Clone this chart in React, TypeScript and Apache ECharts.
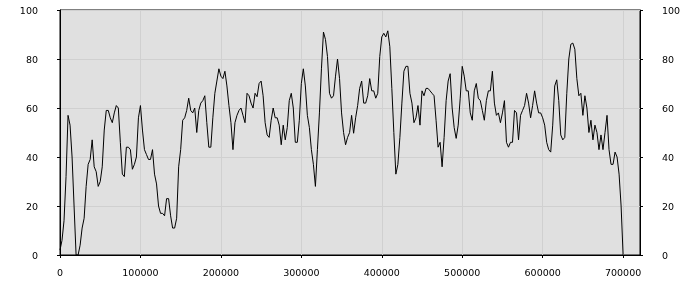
import React, { useEffect, useRef } from "react";
import * as echarts from "echarts";

// sample spacing along the x axis (values are read every 2500 units)
const xStep = 2500;
const xMax = 721000;
const xInterval = 100000;
const yMin = 0;
const yMax = 100;
const yInterval = 20;

const values: number[] = [
  2, 6, 14, 32, 57, 53, 40, 20, 0, 0,
  4, 11, 15, 28, 37, 39, 47, 36, 34, 28,
  30, 36, 51, 59, 59, 56, 54, 58, 61, 60,
  46, 33, 32, 44, 44, 43, 35, 37, 40, 56,
  61, 51, 43, 41, 39, 39, 43, 33, 29,
  20, 17, 17, 16, 23, 23, 16, 11, 11, 15,
  36, 43, 55, 56, 59, 64, 59, 58, 60, 50,
  59, 62, 63, 65, 54, 44, 44, 56, 66, 71,
  76, 73, 72, 75, 69, 61, 54, 43, 54, 57,
  59, 60, 57, 54, 66, 65, 62, 60,
  66, 64.6, 70, 71, 65, 54, 49, 48, 55, 60,
  56, 56, 53, 45, 53, 47, 52, 63, 66, 60,
  46, 46, 55, 70, 76, 69, 57, 52, 43, 37,
  28, 43, 58, 76, 91, 88, 81, 66, 64, 65,
  73, 80, 72, 58, 50, 45, 48, 50, 57,
  49.7, 56, 61, 68, 71, 62, 62, 65, 72, 67,
  67, 64, 66, 81, 89, 90.5, 89, 91.5, 85, 68,
  50, 33, 37, 48, 62, 75, 77, 77, 66, 62,
  54, 56, 61, 53, 67, 65, 68, 68, 67, 66,
  65, 55, 44, 46, 36, 48, 63, 71,
  74, 60, 52, 47.6, 53, 64, 77, 73, 67, 67,
  58, 55, 67, 70, 64, 63, 59, 55, 63, 67,
  67, 75, 62, 57, 58, 54, 58, 63, 46, 44,
  46, 46, 59, 58, 47, 57, 59, 61, 66, 62,
  56, 61, 67, 62, 58, 58, 56, 53,
  46, 43, 42, 53, 69, 71.5, 63, 49, 47, 48,
  66, 80, 86, 86.5, 84, 72, 65, 66, 57, 65,
  60, 50, 55, 47, 53, 50, 43, 49, 43, 50,
  57, 43, 37, 37, 42, 40, 33, 20, 0,
];

const FONT = "DejaVu Sans";

export default function App() {
  const ref = useRef<HTMLDivElement>(null);
  useEffect(() => {
    if (!ref.current) return;
    const chart = echarts.init(ref.current, null, { renderer: "svg" });
    const data = values.map((v, i) => [i * xStep, v]);
    const yAxisBase = {
      type: "value",
      min: yMin,
      max: yMax,
      interval: yInterval,
      axisLine: { show: true, lineStyle: { color: "#000", width: 1 } },
      axisTick: { show: true, length: 3, lineStyle: { color: "#000" } },
      axisLabel: { color: "#000", fontFamily: FONT, fontSize: 9.5, margin: 22 },
    };
    chart.setOption({
      animation: false,
      grid: {
        left: 60,
        right: 60,
        top: 10,
        bottom: 45,
        show: true,
        backgroundColor: "#e0e0e0",
        borderColor: "#000",
        borderWidth: 1,
      },
      xAxis: {
        type: "value",
        min: 0,
        max: xMax,
        interval: xInterval,
        axisLine: { show: true, lineStyle: { color: "#000", width: 1 } },
        axisTick: { show: true, length: 3, lineStyle: { color: "#000" } },
        axisLabel: {
          color: "#000",
          fontFamily: FONT,
          fontSize: 9.5,
          margin: 12,
          showMaxLabel: false,
          formatter: (v: number) => (v % xInterval === 0 ? String(v) : ""),
        },
        splitLine: { show: true, lineStyle: { color: "#d0d0d0", width: 1 } },
      },
      yAxis: [
        {
          ...yAxisBase,
          position: "left",
          splitLine: { show: true, lineStyle: { color: "#d0d0d0", width: 1 } },
        },
        {
          ...yAxisBase,
          position: "right",
          splitLine: { show: false },
        },
      ],
      series: [
        {
          type: "line",
          data,
          yAxisIndex: 0,
          symbol: "none",
          showSymbol: false,
          lineStyle: { color: "#000", width: 1 },
        },
      ],
    });
    return () => chart.dispose();
  }, []);
  return (
    <div
      ref={ref}
      style={{ position: "fixed", left: 0, top: 0, width: 700, height: 300 }}
    />
  );
}
